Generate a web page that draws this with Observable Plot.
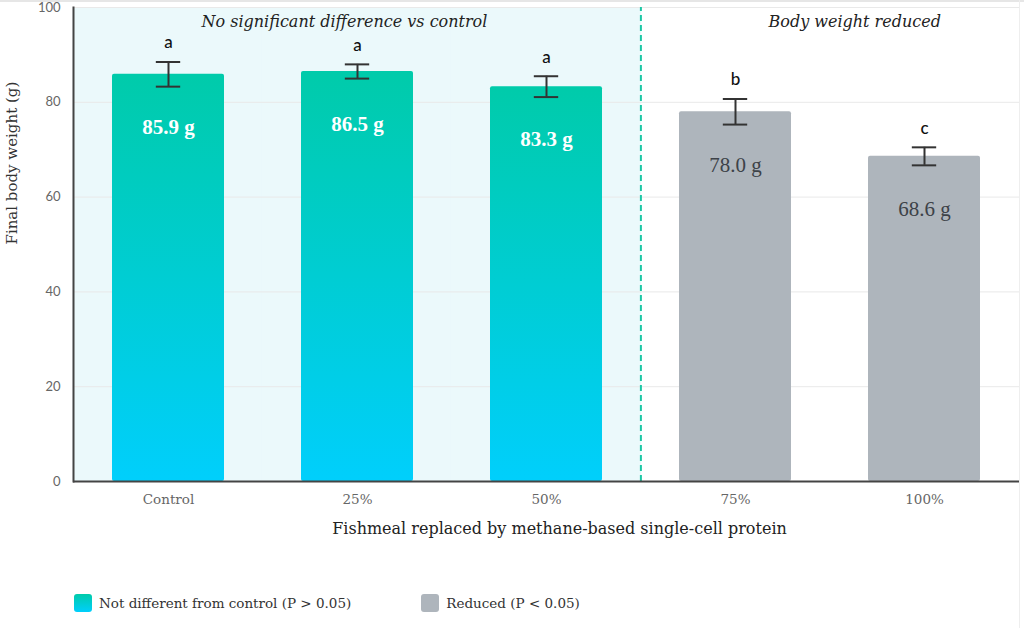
<!DOCTYPE html>
<html><head><meta charset="utf-8">
<script src="https://cdn.jsdelivr.net/npm/d3@7"></script>
<script src="https://cdn.jsdelivr.net/npm/@observablehq/plot@0.6"></script>
<style>
body{margin:0;background:#fff;font-family:"DejaVu Serif",serif;position:relative;width:1024px;height:628px;overflow:hidden;}
#topline{position:absolute;left:0;top:0;width:1024px;height:2px;background:#e6e6e6;}
#rightline{position:absolute;left:1019px;top:0;width:1px;height:628px;background:#eeeeee;}
#legend{position:absolute;top:594px;left:74px;display:flex;align-items:center;font-size:13.5px;color:#333;}
.item{display:flex;align-items:center;}
.sw{width:18px;height:18px;border-radius:3px;margin-right:7px;}
</style></head><body>
<div id="chart"></div>
<div id="topline"></div>
<div id="rightline"></div>
<div id="legend"></div>
<script>
const groups = ["Control", "25%", "50%", "75%", "100%"];
const weights = [85.9, 86.5, 83.3, 78.0, 68.6];
const errors = [2.6, 1.5, 2.2, 2.7, 1.9];
const letters = ["a", "a", "a", "b", "c"];
const status = ["same", "same", "same", "reduced", "reduced"];
const yTicks = [0, 20, 40, 60, 80, 100];
const regionTitles = ["No significant difference vs control", "Body weight reduced"];
const regionStart = ["Control", "75%"];
const xTitle = "Fishmeal replaced by methane-based single-cell protein";
const yTitle = "Final body weight (g)";
const legendLabels = ["Not different from control (P > 0.05)", "Reduced (P < 0.05)"];

const rows = groups.map((g, i) => ({
  group: g, weight: weights[i], lo: weights[i] - errors[i], hi: weights[i] + errors[i],
  letter: letters[i], status: status[i], label: weights[i].toFixed(1) + " g"
}));
const same = rows.filter(d => d.status === "same");
const reduced = rows.filter(d => d.status === "reduced");

const W = 1024, H = 560, ML = 73, MR = 5, MT = 7, MB = 79;
const padIn = 0.41;
const step = (W - ML - MR) / groups.length;
const bw = step * (1 - padIn);
const capInset = (bw - 24) / 2;

const serif = "DejaVu Serif, serif";
const serif2 = "Liberation Serif, serif";
const sans = "Lato, 'Open Sans', sans-serif";

function defs() {
  const ns = "http://www.w3.org/2000/svg";
  const d = document.createElementNS(ns, "defs");
  d.innerHTML = `<linearGradient id="gradTeal" x1="0" y1="0" x2="0" y2="1">
    <stop offset="0" stop-color="#00CBAA"/><stop offset="1" stop-color="#00CFFC"/></linearGradient>`;
  return d;
}

const chart = Plot.plot({
  width: W, height: H,
  marginLeft: ML, marginRight: MR, marginTop: MT, marginBottom: MB,
  style: {fontFamily: serif, background: "transparent"},
  x: {domain: groups, paddingInner: padIn, paddingOuter: padIn / 2, axis: null},
  y: {domain: [0, 100], axis: null},
  marks: [
    defs,
    Plot.barY(same, {x: "group", y1: 0, y2: 100, fill: "#EBF9FB", insetLeft: -(step - bw) / 2 - 0.5, insetRight: -(step - bw) / 2 - 0.5}),
    Plot.gridY(yTicks, {stroke: "#e9e9e9", strokeOpacity: 1}),
    Plot.axisY({ticks: yTicks, tickSize: 0, tickPadding: 13, fontSize: 13, fill: "#666", fontFamily: sans, label: null}),
    Plot.axisX({tickSize: 0, tickPadding: 13, fontSize: 13.5, fill: "#666", label: null}),
    Plot.text([yTitle], {frameAnchor: "left", rotate: -90, dx: -61, fontSize: 15, fill: "#333"}),
    Plot.text([xTitle], {frameAnchor: "bottom", dy: 52, dx: 13, fontSize: 16, fill: "#222"}),
    Plot.ruleX(["75%"], {x: d => d, y1: 0, y2: 100, dx: -step / 2, stroke: "#1CC7A5", strokeWidth: 2, strokeDasharray: "6,4"}),
    Plot.barY(same, {x: "group", y: "weight", fill: "url(#gradTeal)", rx: 2}),
    Plot.barY(reduced, {x: "group", y: "weight", fill: "#AEB5BC", rx: 2}),
    Plot.ruleX(rows, {x: "group", y1: "lo", y2: "hi", stroke: "#333", strokeWidth: 2}),
    Plot.tickY(rows, {x: "group", y: "lo", stroke: "#333", strokeWidth: 2, insetLeft: capInset, insetRight: capInset}),
    Plot.tickY(rows, {x: "group", y: "hi", stroke: "#333", strokeWidth: 2, insetLeft: capInset, insetRight: capInset}),
    Plot.text(rows, {x: "group", y: "hi", text: "letter", dy: -19, fontSize: 17, fontWeight: 500, fontFamily: sans, fill: "#111"}),
    Plot.text(same, {x: "group", y: "weight", text: "label", dy: 53, fontSize: 21, fontWeight: "bold", fontFamily: serif2, fill: "#fff"}),
    Plot.text(reduced, {x: "group", y: "weight", text: "label", dy: 53, fontSize: 21, fontFamily: serif2, fill: "#3d4248"}),
    Plot.text(regionTitles.map((t, i) => ({t, g: regionStart[i]})), {x: "g", y: () => 100, text: "t", textAnchor: "start", dx: 33, dy: 14, fontSize: 16, fontStyle: "italic", fill: "#222"}),
    Plot.ruleY([0], {stroke: "#444", strokeWidth: 2}),
    Plot.frame({anchor: "left", stroke: "#444", strokeWidth: 2})
  ]
});
document.getElementById("chart").appendChild(chart);

const legend = document.getElementById("legend");
const swatches = ["linear-gradient(#00CBAA,#00CFFC)", "#AEB5BC"];
const gaps = [0, 70];
legendLabels.forEach((t, i) => {
  const it = document.createElement("div");
  it.className = "item";
  it.style.marginLeft = gaps[i] + "px";
  const s = document.createElement("div");
  s.className = "sw";
  s.style.background = swatches[i];
  const l = document.createElement("span");
  l.textContent = t;
  it.appendChild(s); it.appendChild(l);
  legend.appendChild(it);
});
</script>
</body></html>
